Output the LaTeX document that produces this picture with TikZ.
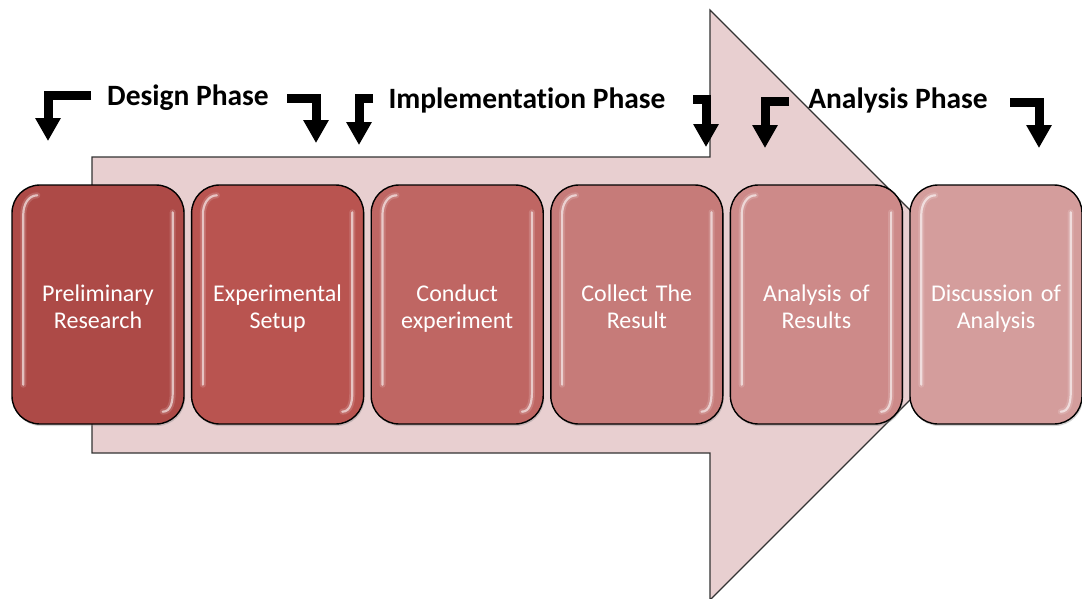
\documentclass[tikz,border=0pt]{standalone}
\usepackage{fontspec}
\setmainfont{Carlito}[Ligatures=NoCommon]
\usetikzlibrary{arrows.meta,shadows,calc}
\definecolor{arrowfill}{RGB}{232,207,208}
\definecolor{stepA}{RGB}{173,74,71}
\definecolor{stepB}{RGB}{185,84,80}
\definecolor{stepC}{RGB}{191,102,99}
\definecolor{stepD}{RGB}{198,123,121}
\definecolor{stepE}{RGB}{205,138,137}
\definecolor{stepF}{RGB}{212,157,156}
\begin{document}
\begin{tikzpicture}[x=1pt,y=-1pt,
  stepbox/.style={draw=black, line width=1.4pt, rounded corners=28pt,
    minimum width=172pt, minimum height=239pt, inner sep=0pt,
    drop shadow={opacity=0.35, shadow xshift=1pt, shadow yshift=-2pt}},
  steptext/.style={text width=166pt, align=center, text=white,
    inner sep=0pt, font=\fontsize{24}{27}\selectfont,
    execute at begin node={\strut}, execute at end node={\strut}},
  phase/.style={font=\bfseries\fontsize{29.5}{32}\selectfont, text=black,
    inner sep=0pt, anchor=base},
  elbow/.style={line width=9pt, line join=miter, black,
    -{Triangle[width=24pt,length=23pt]}},
  elbowshadow/.style={elbow, black, opacity=0.22, shift={(2,3)}},
  shine/.style={white, line width=2.2pt, opacity=0.6, line cap=round},
  glow/.style={white, line width=6pt, opacity=0.15, line cap=round}
]
\useasboundingbox (0,0) rectangle (1082,598);

% large background arrow
\draw[fill=arrowfill, draw=black!80, line width=1.2pt, line join=miter]
  (92,157) -- (710,157) -- (710,10) -- (1005,305) -- (710,600)
  -- (710,453) -- (92,453) -- cycle;

% process steps
\node[stepbox, fill=stepA] (s1) at (98,304.5)    {};
\node[stepbox, fill=stepB] (s2) at (277.6,304.5) {};
\node[stepbox, fill=stepC] (s3) at (457.2,304.5) {};
\node[stepbox, fill=stepD] (s4) at (636.8,304.5) {};
\node[stepbox, fill=stepE] (s5) at (816.4,304.5) {};
\node[stepbox, fill=stepF] (s6) at (996,304.5)   {};

% glossy highlights on each step
\foreach \n in {s1,s2,s3,s4,s5,s6}{
  \draw[glow] ($(\n.north west)+(26,11)$) to[out=180,in=90]
    ($(\n.north west)+(12,30)$) -- ($(\n.south west)+(12,-40)$);
  \draw[shine] ($(\n.north west)+(26,11)$) to[out=180,in=90]
    ($(\n.north west)+(12,30)$) -- ($(\n.south west)+(12,-40)$);
  \draw[glow] ($(\n.north east)+(-12,28)$) -- ($(\n.south east)+(-12,-32)$)
    to[out=-90,in=0] ($(\n.south east)+(-22,-13)$);
  \draw[shine] ($(\n.north east)+(-12,28)$) -- ($(\n.south east)+(-12,-32)$)
    to[out=-90,in=0] ($(\n.south east)+(-22,-13)$);
}

% step captions
\node[steptext] (t1) at ($(s1.center)+(0,5)$) {Preliminary\\Research};
\node[steptext] (t2) at ($(s2.center)+(0,5)$) {Experimental\\Setup};
\node[steptext] (t3) at ($(s3.center)+(0,5)$) {Conduct\\experiment};
\node[steptext] (t4) at ($(s4.center)+(0,5)$) {Collect The\\Result};
\node[steptext] (t5) at ($(s5.center)+(0,5)$) {Analysis of\\Results};
\node[steptext] (t6) at ($(s6.center)+(0,5)$) {Discussion of\\Analysis};

% phase labels
\node[phase] (pd) at (188,105) {Design Phase};
\node[phase] (pi) at (527,108) {Implementation Phase};
\node[phase] (pa) at (898,108) {Analysis Phase};

% bent arrows marking the phase boundaries
\coordinate (d1s) at (91,95);    \coordinate (d1e) at (48,141);
\coordinate (d2s) at (287,98);   \coordinate (d2e) at (316,143);
\coordinate (i1s) at (373,98);   \coordinate (i1e) at (359,145);
\coordinate (i2s) at (693,99);   \coordinate (i2e) at (706,147);
\coordinate (a1s) at (789,101);  \coordinate (a1e) at (765,148);
\coordinate (a2s) at (1010,102); \coordinate (a2e) at (1039,148);
\foreach \s/\e in {d1s/d1e,d2s/d2e,i1s/i1e,i2s/i2e,a1s/a1e,a2s/a2e}{
  \draw[elbowshadow] (\s) -| (\e);
  \draw[elbow] (\s) -| (\e);
}
\end{tikzpicture}
\end{document}
